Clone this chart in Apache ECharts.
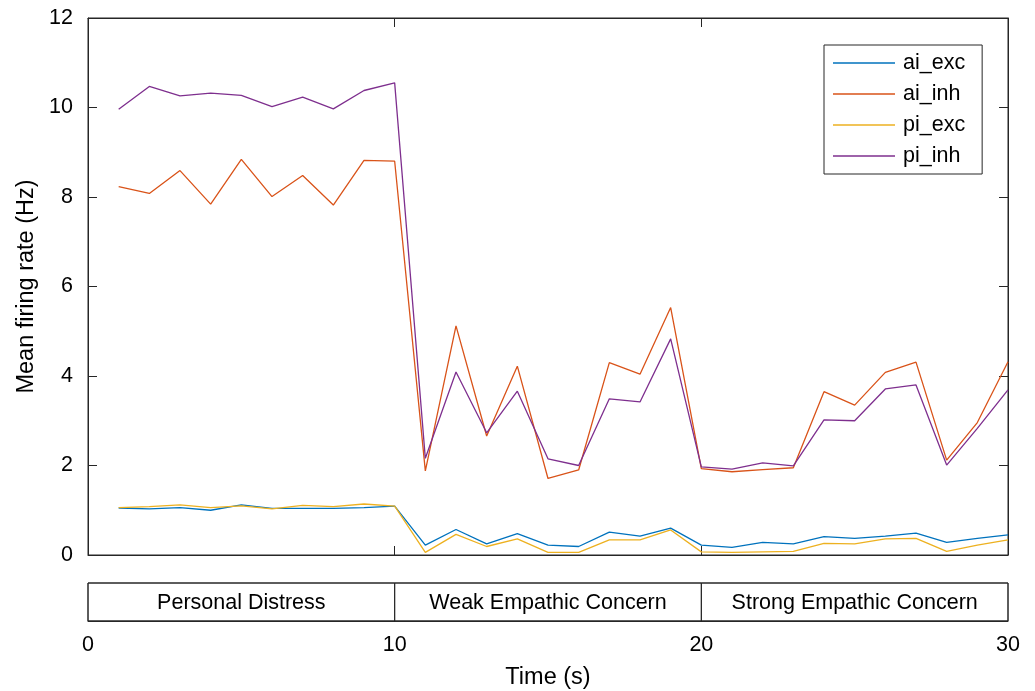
<!DOCTYPE html>
<html>
<head>
<meta charset="utf-8">
<script src="https://cdn.jsdelivr.net/npm/echarts@6/dist/echarts.min.js"></script>
<style>html,body{margin:0;padding:0;background:#fff;}#c{width:1035px;height:691px;}</style>
</head>
<body>
<div id="c"></div>
<script>
const time = [1,2,3,4,5,6,7,8,9,10,11,12,13,14,15,16,17,18,19,20,21,22,23,24,25,26,27,28,29,30];
const aiExc = [1.05,1.03,1.06,1.00,1.12,1.04,1.04,1.04,1.06,1.09, 0.22,0.57,0.25,0.48,0.22,0.19,0.51,0.42,0.60,0.22, 0.17,0.28,0.25,0.41,0.37,0.42,0.49,0.28,0.37,0.45];
const aiInh = [8.23,8.08,8.59,7.84,8.84,8.01,8.48,7.82,8.82,8.80, 1.88,5.12,2.66,4.22,1.71,1.90,4.30,4.04,5.53,1.93, 1.86,1.91,1.95,3.65,3.35,4.08,4.31,2.12,2.96,4.32];
const piExc = [1.06,1.08,1.12,1.06,1.10,1.03,1.11,1.08,1.14,1.09, 0.06,0.46,0.19,0.36,0.06,0.06,0.34,0.34,0.56,0.07, 0.06,0.07,0.08,0.26,0.25,0.36,0.37,0.08,0.22,0.34];
const piInh = [9.96,10.47,10.26,10.32,10.27,10.02,10.23,9.97,10.38,10.55, 2.16,4.09,2.73,3.66,2.15,2.00,3.49,3.42,4.83,1.97, 1.92,2.06,1.99,3.02,3.00,3.71,3.80,2.01,2.83,3.69];
const seriesNames = ['ai_exc','ai_inh','pi_exc','pi_inh'];
const phaseStart = [0,10,20];
const phaseEnd = [10,20,30];
const phaseLabels = ['Personal Distress','Weak Empathic Concern','Strong Empathic Concern'];

const FONT = '"Liberation Sans", Arial, Helvetica, sans-serif';
const AX = '#262626';
const FS = 21.5;
const TS = 23.5;
const colors = ['#0072BD','#D95319','#EDB120','#7E2F8E'];
const values = [aiExc, aiInh, piExc, piInh];

const chart = echarts.init(document.getElementById('c'), null, {renderer:'canvas'});
const tickStyle = {show:true, inside:true, length:9, lineStyle:{color:AX, width:1}};
const axLine = {show:true, onZero:false, lineStyle:{color:AX, width:1}};
const lineSeries = seriesNames.map((n,i)=>({
  name:n, type:'line', xAxisIndex:0, yAxisIndex:0,
  data: time.map((t,k)=>[t, values[i][k]]),
  showSymbol:false, symbol:'none', z: 2+i,
  lineStyle:{color:colors[i], width:1.3}, itemStyle:{color:colors[i]},
  animation:false
}));

chart.setOption({
  animation:false,
  backgroundColor:'#fff',
  textStyle:{fontFamily:FONT},
  grid:[
    {left:88, top:18, width:920, height:537, show:true, borderColor:AX, borderWidth:1, backgroundColor:'#fff'},
    {left:88, top:583, width:920, height:40, show:true, borderColor:AX, borderWidth:1, backgroundColor:'#fff'}
  ],
  legend:{
    data:seriesNames, orient:'vertical', left:824, top:45,
    icon:'rect', itemWidth:62, itemHeight:1.5, itemGap:7,
    padding:[6,17,6,9], borderColor:AX, borderWidth:1, backgroundColor:'#fff',
    textStyle:{fontFamily:FONT, fontSize:FS, color:'#000', lineHeight:24, padding:[0,0,0,3]}
  },
  xAxis:[
    {type:'value', gridIndex:0, min:0, max:30, interval:10, position:'bottom',
     axisLine:axLine, axisTick:tickStyle, axisLabel:{show:false}, splitLine:{show:false}},
    {type:'value', gridIndex:0, min:0, max:30, interval:10, position:'top',
     axisLine:axLine, axisTick:tickStyle, axisLabel:{show:false}, splitLine:{show:false}},
    {type:'value', gridIndex:1, min:0, max:30, interval:10, position:'bottom',
     axisLine:axLine, axisTick:{show:false},
     axisLabel:{show:true, fontSize:FS, color:'#000', margin:13, fontFamily:FONT},
     splitLine:{show:false},
     name:'Time (s)', nameLocation:'middle', nameGap:45,
     nameTextStyle:{fontSize:TS, color:'#000', fontFamily:FONT}}
  ],
  yAxis:[
    {type:'value', gridIndex:0, min:0, max:12, interval:2, position:'left',
     axisLine:axLine, axisTick:tickStyle,
     axisLabel:{show:true, fontSize:FS, color:'#000', margin:15, fontFamily:FONT},
     splitLine:{show:false},
     name:'Mean firing rate (Hz)', nameLocation:'middle', nameGap:42,
     nameTextStyle:{fontSize:TS, color:'#000', fontFamily:FONT}},
    {type:'value', gridIndex:0, min:0, max:12, interval:2, position:'right',
     axisLine:axLine, axisTick:tickStyle, axisLabel:{show:false}, splitLine:{show:false}},
    {type:'value', gridIndex:1, min:0, max:1, show:false}
  ],
  series: lineSeries.concat([{
    type:'custom', xAxisIndex:2, yAxisIndex:2, silent:true,
    data: phaseLabels.map((l,i)=>[phaseStart[i], phaseEnd[i], l]),
    renderItem:function(params, api){
      const p0 = api.coord([api.value(0), 1]);
      const p1 = api.coord([api.value(1), 0]);
      return {
        type:'group',
        children:[
          {type:'rect', shape:{x:p0[0], y:p0[1], width:p1[0]-p0[0], height:p1[1]-p0[1]},
           style:{fill:'none', stroke:AX, lineWidth:1}},
          {type:'text', style:{text:phaseLabels[params.dataIndex], x:(p0[0]+p1[0])/2, y:(p0[1]+p1[1])/2 + 1.5,
            align:'center', verticalAlign:'middle', fontSize:FS, fontFamily:FONT, fill:'#000'}}
        ]
      };
    }
  }])
});
</script>
</body>
</html>
